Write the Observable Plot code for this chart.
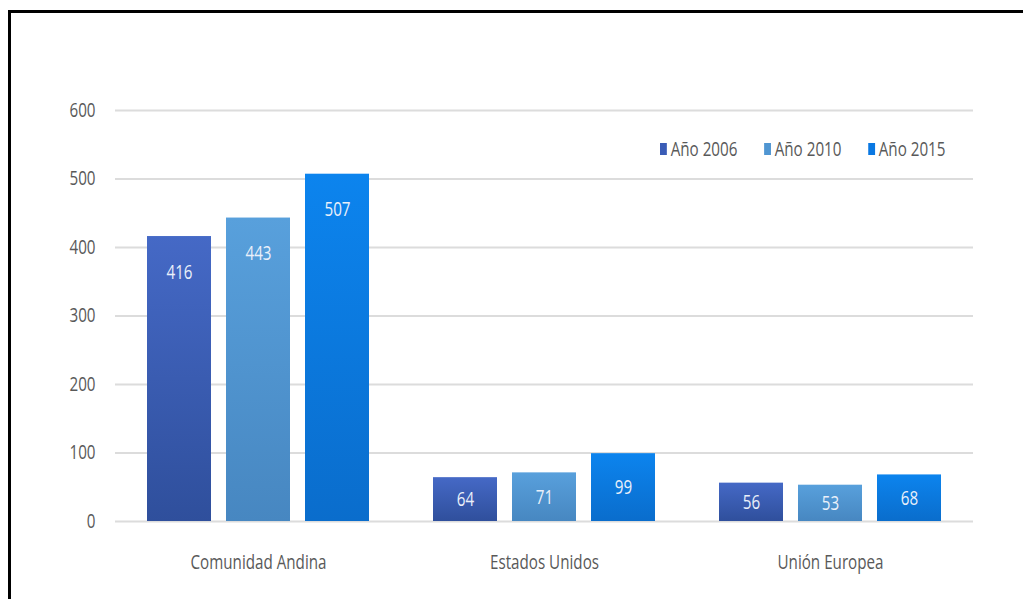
<!DOCTYPE html>
<html>
<head>
<meta charset="utf-8">
<script src="https://cdn.jsdelivr.net/npm/d3@7"></script>
<script src="https://cdn.jsdelivr.net/npm/@observablehq/plot@0.6"></script>
<style>
  html, body { margin: 0; padding: 0; background: #fff; }
  #wrap { position: relative; width: 1023px; height: 599px; overflow: hidden; }
  #frame { position: absolute; left: 8px; top: 10px; width: 1100px; height: 700px;
           border-top: 3px solid #000; border-left: 3px solid #000; pointer-events: none; }
  #legend { position: absolute; top: 135px; left: 660px; display: flex;
            font-family: "Open Sans", sans-serif; font-size: 20px; color: #595959;
            transform: scaleX(0.76); transform-origin: 0 0; white-space: nowrap; }
  #legend .item { display: flex; align-items: center; margin-right: 35px; }
  #legend .sw { width: 9px; height: 12px; margin-right: 5px; }
  #chart { position: absolute; left: 0; top: 0; }
</style>
</head>
<body>
<div id="wrap">
  <div id="chart"></div>
  <div id="legend"></div>
  <div id="frame"></div>
</div>
<script>
// ---- data ----
const categories = ["Comunidad Andina", "Estados Unidos", "Unión Europea"];
const years = ["Año 2006", "Año 2010", "Año 2015"];
const values2006 = [416, 64, 56];
const values2010 = [443, 71, 53];
const values2015 = [507, 99, 68];
const yTicks = [0, 100, 200, 300, 400, 500, 600];

const colors = ["#3A5CB6", "#5096D2", "#0A78E2"];
const gradTop = ["#4569C6", "#58A0DC", "#0C84EE"];
const gradBottom = ["#2F4F9C", "#4787C1", "#0A6DCC"];

const series = [values2006, values2010, values2015];
const rows = [];
categories.forEach((c, i) => {
  years.forEach((y, j) => rows.push({category: c, year: y, value: series[j][i]}));
});

const font = '"Open Sans", sans-serif';
const SX = 0.76;

const plot = Plot.plot({
  width: 1023,
  height: 599,
  marginLeft: 115,
  marginRight: 50,
  marginTop: 110,
  marginBottom: 78,
  style: {fontFamily: font, fontSize: "20px", color: "#595959", background: "transparent"},
  fx: {domain: categories, padding: 0, label: null},
  x: {domain: years, paddingInner: 0.19, paddingOuter: 0.405, axis: null},
  y: {domain: [0, 600], label: null},
  color: {type: "ordinal", domain: years, range: years.map((_, i) => `url(#grad${i})`)},
  marks: [
    Plot.ruleY(yTicks, {stroke: "#dcdcdc", strokeWidth: 2}),
    Plot.barY(rows, {fx: "category", x: "year", y: "value", fill: "year"}),
    Plot.text(rows, {
      fx: "category", x: "year",
      y: d => Math.max(d.value / 2, d.value - 52),
      text: d => String(d.value),
      fill: "#EAF0FA", fontSize: 20
    }),
    Plot.axisY({ticks: yTicks, tickSize: 0, tickPadding: 20, label: null, fontSize: 20}),
    Plot.axisFx({anchor: "bottom", tickSize: 0, tickPadding: 33, label: null, fontSize: 20})
  ]
});

// gradient defs
const ns = "http://www.w3.org/2000/svg";
const defs = document.createElementNS(ns, "defs");
years.forEach((_, i) => {
  const g = document.createElementNS(ns, "linearGradient");
  g.setAttribute("id", `grad${i}`);
  g.setAttribute("x1", "0"); g.setAttribute("y1", "0");
  g.setAttribute("x2", "0"); g.setAttribute("y2", "1");
  const s1 = document.createElementNS(ns, "stop");
  s1.setAttribute("offset", "0"); s1.setAttribute("stop-color", gradTop[i]);
  const s2 = document.createElementNS(ns, "stop");
  s2.setAttribute("offset", "1"); s2.setAttribute("stop-color", gradBottom[i]);
  g.appendChild(s1); g.appendChild(s2);
  defs.appendChild(g);
});
plot.insertBefore(defs, plot.firstChild);

// condense all text horizontally (narrow typeface look)
plot.querySelectorAll("text").forEach(t => {
  const tr = t.getAttribute("transform") || "";
  const xa = t.getAttribute("x");
  let tx = 0;
  if (xa != null && !isNaN(+xa)) { tx = +xa; t.removeAttribute("x"); }
  t.setAttribute("transform", `${tr} translate(${tx},0) scale(${SX},1)`);
});

document.getElementById("chart").appendChild(plot);

// legend
const legend = document.getElementById("legend");
years.forEach((y, i) => {
  const item = document.createElement("div");
  item.className = "item";
  const sw = document.createElement("span");
  sw.className = "sw";
  sw.style.background = colors[i];
  const t = document.createElement("span");
  t.textContent = y;
  item.appendChild(sw); item.appendChild(t);
  legend.appendChild(item);
});
</script>
</body>
</html>
